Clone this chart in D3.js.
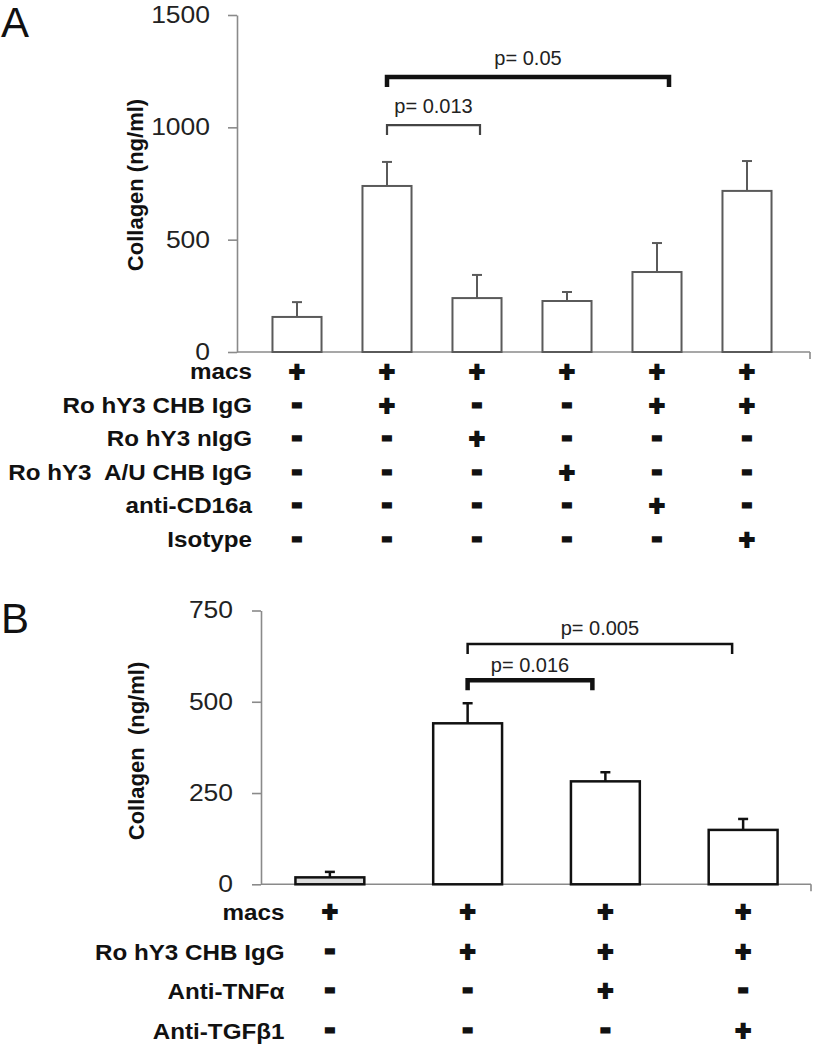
<!DOCTYPE html>
<html>
<head>
<meta charset="utf-8">
<script src="https://cdn.jsdelivr.net/npm/d3@7"></script>
<style>
  body { margin: 0; background: #fff; }
  svg { display: block; }
  text { font-family: "Liberation Sans", Arial, sans-serif; }
</style>
</head>
<body>
<svg id="chart" width="813" height="1050"></svg>
<script>
// ---------- Panel A data ----------
const aGroups = ["g1", "g2", "g3", "g4", "g5", "g6"];
const aValues = [156, 739, 240, 227, 356, 717];
const aErrors = [66, 107, 103, 40, 129, 133];
const aTicks = [0, 500, 1000, 1500];
const aRowLabels = ["macs", "Ro hY3 CHB IgG", "Ro hY3 nIgG", "Ro hY3  A/U CHB IgG", "anti-CD16a", "Isotype"];
const aMatrix = [
  ["+", "+", "+", "+", "+", "+"],
  ["-", "+", "-", "-", "+", "+"],
  ["-", "-", "+", "-", "-", "-"],
  ["-", "-", "-", "+", "-", "-"],
  ["-", "-", "-", "-", "+", "-"],
  ["-", "-", "-", "-", "-", "+"]
];
const aBracketPairs = [[1, 4], [1, 2]];
const aBracketLevels = [1224, 1010];
const aBracketLabels = ["p= 0.05", "p= 0.013"];

// ---------- Panel B data ----------
const bGroups = ["g1", "g2", "g3", "g4"];
const bValues = [19, 441, 282, 149];
const bErrors = [15, 55, 25, 30];
const bTicks = [0, 250, 500, 750];
const bRowLabels = ["macs", "Ro hY3 CHB IgG", "Anti-TNFα", "Anti-TGFβ1"];
const bMatrix = [
  ["+", "+", "+", "+"],
  ["-", "+", "+", "+"],
  ["-", "-", "+", "-"],
  ["-", "-", "-", "+"]
];
const bBracketPairs = [[1, 3], [1, 2]];
const bBracketLevels = [658, 559];
const bBracketLabels = ["p= 0.005", "p= 0.016"];

const svg = d3.select("#chart");

function stretch(sel, f) {
  sel.each(function () {
    const w = this.getComputedTextLength();
    d3.select(this).attr("textLength", w * f).attr("lengthAdjust", "spacingAndGlyphs");
  });
}

function panel(cfg) {
  const g = svg.append("g");
  const x = d3.scaleBand().domain(cfg.groups).range(cfg.xRange)
    .paddingInner(cfg.padIn).paddingOuter(cfg.padOut);
  const y = d3.scaleLinear().domain(cfg.yDomain).range(cfg.yRange);

  // y axis
  const ax = g.append("g").attr("transform", `translate(${cfg.axisX},0)`)
    .call(d3.axisLeft(y).tickValues(cfg.ticks).tickFormat(d3.format("d"))
      .tickSize(9).tickSizeOuter(0).tickPadding(cfg.tickPad));
  ax.select(".domain").attr("stroke", "#8a8a8a").attr("stroke-width", 1.6);
  ax.selectAll(".tick line").attr("stroke", "#8a8a8a").attr("stroke-width", 1.6);
  const tt = ax.selectAll(".tick text").attr("font-size", 23).attr("fill", "#222")
    .attr("font-family", "Liberation Sans, Arial, sans-serif");
  stretch(tt, 1.15);

  // x axis line
  const y0 = y(0);
  g.append("line").attr("x1", cfg.axisX).attr("x2", cfg.axisEnd).attr("y1", y0).attr("y2", y0)
    .attr("stroke", "#8a8a8a").attr("stroke-width", 1.6);
  g.append("line").attr("x1", cfg.axisEnd).attr("x2", cfg.axisEnd).attr("y1", y0).attr("y2", y0 + 7)
    .attr("stroke", "#8a8a8a").attr("stroke-width", 1.6);

  // bars
  g.selectAll("rect.bar").data(cfg.values).join("rect")
    .attr("class", "bar")
    .attr("x", (d, i) => x(cfg.groups[i]))
    .attr("width", x.bandwidth())
    .attr("y", d => y(d))
    .attr("height", d => y0 - y(d))
    .attr("fill", (d, i) => cfg.fills[i])
    .attr("stroke", cfg.barStroke).attr("stroke-width", cfg.barStrokeW);

  // error bars
  const cx = i => x(cfg.groups[i]) + x.bandwidth() / 2;
  cfg.values.forEach((v, i) => {
    const top = y(v + cfg.errors[i]);
    g.append("line").attr("x1", cx(i)).attr("x2", cx(i)).attr("y1", y(v)).attr("y2", top)
      .attr("stroke", cfg.barStroke).attr("stroke-width", cfg.errW);
    g.append("line").attr("x1", cx(i) - 5).attr("x2", cx(i) + 5).attr("y1", top).attr("y2", top)
      .attr("stroke", cfg.barStroke).attr("stroke-width", cfg.errW);
  });

  // brackets
  cfg.pairs.forEach((p, k) => {
    const x1 = cx(p[0]), x2 = cx(p[1]) + cfg.bracketShift[k];
    const yl = y(cfg.levels[k]);
    g.append("path")
      .attr("d", `M${x1},${yl + 10} L${x1},${yl} L${x2},${yl} L${x2},${yl + 10}`)
      .attr("fill", "none").attr("stroke", cfg.bracketColor[k])
      .attr("stroke-width", cfg.bracketW[k]);
    g.append("text").attr("x", (x1 + x2) / 2).attr("y", yl - cfg.labelGap[k])
      .attr("text-anchor", "middle").attr("font-size", 20).attr("fill", "#222")
      .text(cfg.labels[k]);
  });

  // y label
  g.append("text")
    .attr("transform", `translate(${cfg.yLabelPos[0]},${cfg.yLabelPos[1]}) rotate(-90)`)
    .attr("text-anchor", "middle").attr("dominant-baseline", "central")
    .attr("font-size", 22).attr("font-weight", "bold").attr("fill", "#111")
    .style("white-space", "pre")
    .text(cfg.yLabel);

  // panel letter
  g.append("text").attr("x", 1).attr("y", cfg.letterY).attr("font-size", 42)
    .attr("fill", "#111").text(cfg.letter);

  // condition table
  cfg.rows.forEach((lab, r) => {
    const base = cfg.rowY0 + r * cfg.rowStep;
    const t = g.append("text").attr("x", cfg.rowLabelX).attr("y", base)
      .attr("text-anchor", "end").attr("font-size", 22).attr("font-weight", "bold")
      .attr("fill", "#111").style("white-space", "pre").text(lab);
    stretch(t, 1.1);
    const center = base - cfg.symOff;
    cfg.matrix[r].forEach((s, c) => {
      const fs = s === "+" ? 27 : 28;
      const yb = s === "+" ? center + 0.345 * fs : center + 0.265 * fs;
      g.append("text").attr("x", cx(c)).attr("y", yb).attr("text-anchor", "middle")
        .attr("font-size", fs).attr("font-weight", "bold").attr("fill", "#111")
        .attr("stroke", "#111").attr("stroke-width", s === "+" ? 2 : 3)
        .attr("stroke-linejoin", "miter")
        .text(s);
    });
  });
}

panel({
  groups: aGroups, values: aValues, errors: aErrors, ticks: aTicks,
  xRange: [252, 792], padIn: 0.455, padOut: 0.2275,
  yDomain: [0, 1500], yRange: [352, 15],
  axisX: 237, axisEnd: 810, tickPad: 18,
  fills: aValues.map(() => "#fff"), barStroke: "#5a5a5a", barStrokeW: 2, errW: 2,
  pairs: aBracketPairs, levels: aBracketLevels, labels: aBracketLabels,
  bracketShift: [12, 3], bracketW: [4.5, 2.2], bracketColor: ["#111", "#444"], labelGap: [12, 12],
  yLabel: "Collagen (ng/ml)", yLabelPos: [135, 185],
  letter: "A", letterY: 37,
  rows: aRowLabels, matrix: aMatrix, rowLabelX: 252, rowY0: 379, rowStep: 33.5, symOff: 7
});

panel({
  groups: bGroups, values: bValues, errors: bErrors, ticks: bTicks,
  xRange: [261, 812], padIn: 0.5, padOut: 0.25,
  yDomain: [0, 750], yRange: [884.3, 610.5],
  axisX: 261, axisEnd: 811, tickPad: 19,
  fills: ["#dcdcdc", "#fff", "#fff", "#fff"], barStroke: "#111", barStrokeW: 2.5, errW: 2.5,
  pairs: bBracketPairs, levels: bBracketLevels, labels: bBracketLabels,
  bracketShift: [-11, -13], bracketW: [2.5, 4.5], bracketColor: ["#111", "#111"], labelGap: [9, 8],
  yLabel: "Collagen  (ng/ml)", yLabelPos: [136, 751],
  letter: "B", letterY: 633,
  rows: bRowLabels, matrix: bMatrix, rowLabelX: 284.5, rowY0: 920, rowStep: 39.5, symOff: 8
});
</script>
</body>
</html>
